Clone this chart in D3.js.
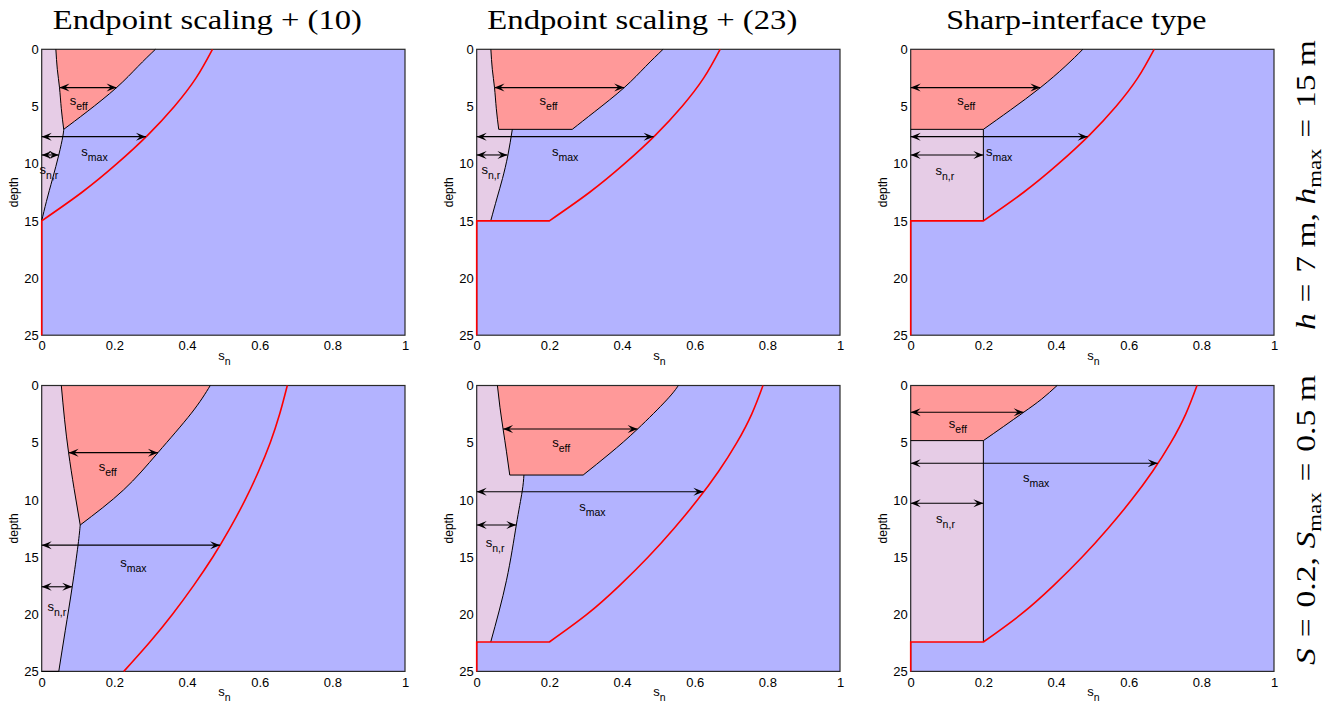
<!DOCTYPE html>
<html>
<head>
<meta charset="utf-8">
<script src="https://cdn.jsdelivr.net/npm/d3@7"></script>
<style>
  body { margin: 0; background: #fff; }
  svg { display: block; }
  text { font-family: "Liberation Sans", Arial, Helvetica, sans-serif; fill: #000; }
  .serif { font-family: "Liberation Serif", "Times New Roman", serif; }
</style>
</head>
<body>
<svg id="chart" width="1332" height="706"></svg>
<script>
// axis ticks and headings
const depthTicks = [0, 5, 10, 15, 20, 25];
const snTicks = [0, 0.2, 0.4, 0.6, 0.8, 1];
const columnTitles = ["Endpoint scaling + (10)", "Endpoint scaling + (23)", "Sharp-interface type"];
const rowLabels = [
  [["h", "i"], ["=", ""], ["7", ""], ["m,", ""], ["h", "i"], ["max", "sub"], ["=", ""], ["15", ""], ["m", ""]],
  [["S", "i"], ["=", ""], ["0.2,", ""], ["S", "i"], ["max", "sub"], ["=", ""], ["0.5", ""], ["m", ""]]
];

// curves as [s_n, depth]
const p1Upper = [[0.039, 0], [0.043, 1.75], [0.049, 3.35], [0.054, 5.2], [0.0606, 7]];
const p1Lower = [[0.0606, 7], [0.058, 7.64], [0.047, 9.24], [0.030, 11.3], [0.013, 13.3], [0, 15]];
const p1Eff = [[0.313, 0], [0.265, 1.5], [0.206, 3.35], [0.125, 5.45], [0.0606, 7]];
const p1Max = [[0.47, 0], [0.425, 2.5], [0.365, 5], [0.292, 7.5], [0.207, 10], [0.111, 12.5], [0, 15]];

const p2Upper = [[0.039, 0], [0.043, 1.75], [0.049, 3.35], [0.054, 5.2], [0.0606, 7]];
const p2Lower = [[0.098, 7], [0.086, 9.24], [0.071, 11.3], [0.056, 13.0], [0.0386, 15]];
const p2Eff = [[0.513, 0], [0.465, 1.5], [0.406, 3.35], [0.325, 5.45], [0.263, 7]];
const p2Max = [[0.67, 0], [0.625, 2.5], [0.565, 5], [0.492, 7.5], [0.407, 10], [0.311, 12.5], [0.2, 15]];

const p3Eff = [[0.474, 0], [0.425, 1.5], [0.357, 3.35], [0.275, 5.3], [0.2, 7]];
const p3Max = [[0.67, 0], [0.625, 2.5], [0.565, 5], [0.492, 7.5], [0.407, 10], [0.311, 12.5], [0.2, 15]];

const p4Upper = [[0.054, 0], [0.063, 3], [0.074, 5.87], [0.089, 9], [0.106, 12.2]];
const p4Lower = [[0.106, 12.2], [0.1, 13.96], [0.084, 17.6], [0.065, 21.4], [0.047, 25]];
const p4Eff = [[0.464, 0], [0.412, 2.42], [0.32, 5.87], [0.225, 9.14], [0.106, 12.2]];
const p4Max = [[0.676, 0], [0.655, 2.5], [0.629, 5], [0.597, 7.5], [0.56, 10], [0.518, 12.5],
               [0.471, 15], [0.418, 17.5], [0.36, 20], [0.296, 22.5], [0.226, 25]];

const p5Upper = [[0.057, 0], [0.064, 1.9], [0.0726, 3.8], [0.082, 5.8], [0.091, 7.83]];
const p5Lower = [[0.13, 7.83], [0.125, 9.29], [0.109, 12.2], [0.082, 17.03], [0.0386, 22.43]];
const p5Eff = [[0.555, 0], [0.523, 1.26], [0.443, 3.8], [0.367, 5.93], [0.293, 7.83]];
const p5Max = [[0.788, 0], [0.757, 2.5], [0.716, 5], [0.666, 7.5], [0.608, 10], [0.543, 12.5],
               [0.472, 15], [0.393, 17.5], [0.304, 20], [0.2, 22.43]];

const p6Eff = [[0.403, 0], [0.36, 1.2], [0.311, 2.34], [0.255, 3.6], [0.2, 4.82]];
const p6Max = [[0.788, 0], [0.757, 2.5], [0.716, 5], [0.666, 7.5], [0.608, 10], [0.543, 12.5],
               [0.472, 15], [0.393, 17.5], [0.304, 20], [0.2, 22.43]];

// arrows: [depth, from s_n, to s_n] for s_eff, s_max, s_n,r
const arrowsEff = [[3.35, 0.049, 0.206], [3.35, 0.049, 0.406], [3.35, 0, 0.357],
                   [5.87, 0.074, 0.32], [3.8, 0.0726, 0.443], [2.34, 0, 0.311]];
const arrowsMax = [[7.64, 0, 0.287], [7.64, 0, 0.487], [7.64, 0, 0.487],
                   [13.96, 0, 0.491], [9.29, 0, 0.624], [6.8, 0, 0.68]];
const arrowsNr = [[9.24, 0, 0.047], [9.24, 0, 0.0846], [9.24, 0, 0.2],
                  [17.6, 0, 0.084], [12.2, 0, 0.109], [10.3, 0, 0.2]];
// label anchors [s_n, depth]
const labelEff = [[0.077, 4.9], [0.173, 4.9], [0.128, 4.9], [0.157, 7.45], [0.208, 5.35], [0.105, 3.73]];
const labelMax = [[0.109, 9.3], [0.207, 9.3], [0.207, 9.3], [0.216, 15.9], [0.282, 10.98], [0.309, 8.4]];
const labelNr = [[-0.006, 10.9], [0.013, 10.9], [0.068, 11.0], [0.016, 19.7], [0.025, 14.1], [0.07, 12.06]];

const panels = [
  { kind: "smooth", upper: p1Upper, lower: p1Lower, eff: p1Eff, max: p1Max },
  { kind: "step", upper: p2Upper, lower: p2Lower, eff: p2Eff, max: p2Max },
  { kind: "sharp", eff: p3Eff, max: p3Max },
  { kind: "smooth", upper: p4Upper, lower: p4Lower, eff: p4Eff, max: p4Max },
  { kind: "step", upper: p5Upper, lower: p5Lower, eff: p5Eff, max: p5Max },
  { kind: "sharp", eff: p6Eff, max: p6Max }
];

const colLeft = [41.7, 476.7, 910.7];
const rowTop = [49.3, 385.5];
const pw = 363.3, ph = 285.9;
const C = { blue: "#b3b3ff", purple: "#e6cce6", red: "#ff9999", line: "#ff0000" };

const svg = d3.select("#chart");
const last = (a) => a[a.length - 1];
const rev = (a) => a.slice().reverse();
const S = (pts) => ({ pts, smooth: true });
const L = (pts) => ({ pts, smooth: false });

panels.forEach((p, i) => {
  const r = Math.floor(i / 3), c = i % 3;
  const x = d3.scaleLinear().domain([0, 1]).range([0, pw]);
  const y = d3.scaleLinear().domain([0, 25]).range([0, ph]);
  const smoothGen = d3.line().x((q) => x(q[0])).y((q) => y(q[1])).curve(d3.curveNatural);
  const linGen = d3.line().x((q) => x(q[0])).y((q) => y(q[1]));
  const path = (segs, close) =>
    segs.map((s, k) => {
      const str = (s.smooth ? smoothGen : linGen)(s.pts);
      return k ? str.replace(/^M/, "L") : str;
    }).join("") + (close ? "Z" : "");

  const g = svg.append("g").attr("transform", `translate(${colLeft[c]},${rowTop[r]})`);

  let purple, red, black = [], redLine;
  if (p.kind === "smooth") {
    const lEnd = last(p.lower);
    purple = [L([[0, 0], p.upper[0]]), S(p.upper), S(p.lower), L([lEnd, [0, lEnd[1]], [0, 0]])];
    red = [S(p.upper), S(rev(p.eff)), L([p.eff[0], p.upper[0]])];
    black = [[S(p.upper)], [S(p.lower)], [S(p.eff)]];
    if (lEnd[1] >= 25) black.push([L([lEnd, [0, 25]])]);
    redLine = [S(p.max)];
    if (last(p.max)[0] === 0) redLine.push(L([last(p.max), [0, 25]]));
  } else if (p.kind === "step") {
    const floor = last(p.max)[1];
    const kinkU = last(p.upper), kinkE = last(p.eff);
    purple = [L([[0, 0], p.upper[0]]), S(p.upper), L([kinkU, p.lower[0]]), S(p.lower),
              L([last(p.lower), [0, floor], [0, 0]])];
    red = [S(p.upper), L([kinkU, kinkE]), S(rev(p.eff)), L([p.eff[0], p.upper[0]])];
    black = [[S(p.upper)], [L([kinkU, kinkE])], [S(p.lower)], [S(p.eff)]];
    redLine = [L([[0, 25], [0, floor], last(p.max)]), S(rev(p.max))];
  } else {
    const floor = last(p.max)[1];
    const shelf = last(p.max)[0];
    const kink = last(p.eff)[1];
    purple = [L([[0, kink], [shelf, kink], [shelf, floor], [0, floor]])];
    red = [L([[0, kink], [0, 0], p.eff[0]]), S(p.eff)];
    black = [[S(p.eff)], [L([[0, kink], [shelf, kink], [shelf, floor]])]];
    redLine = [L([[0, 25], [0, floor], [shelf, floor]]), S(rev(p.max))];
  }

  g.append("rect").attr("width", pw).attr("height", ph).attr("fill", C.blue);
  g.append("path").attr("d", path(purple, true)).attr("fill", C.purple);
  g.append("path").attr("d", path(red, true)).attr("fill", C.red);
  g.append("rect").attr("width", pw).attr("height", ph)
    .attr("fill", "none").attr("stroke", "#2a2a2a").attr("stroke-width", 1.2);
  black.forEach((b) => g.append("path").attr("d", path(b)).attr("fill", "none")
    .attr("stroke", "#000").attr("stroke-width", 1));
  g.append("path").attr("d", path(redLine)).attr("fill", "none")
    .attr("stroke", C.line).attr("stroke-width", 1.6);

  // double arrows
  const head = (tx, ty, dir) => {
    const Lh = 10, h = 4, n = 6;
    return `M${tx},${ty}L${tx + dir * Lh},${ty - h}L${tx + dir * n},${ty}L${tx + dir * Lh},${ty + h}Z`;
  };
  [arrowsEff[i], arrowsMax[i], arrowsNr[i]].forEach(([d, s0, s1]) => {
    const yy = y(d), x0 = x(s0), x1 = x(s1);
    g.append("line").attr("x1", x0).attr("x2", x1).attr("y1", yy).attr("y2", yy)
      .attr("stroke", "#000").attr("stroke-width", 1.1);
    g.append("path").attr("d", head(x0, yy, 1) + head(x1, yy, -1)).attr("fill", "#000");
  });

  // s labels
  [[labelEff[i], "eff"], [labelMax[i], "max"], [labelNr[i], "n,r"]].forEach(([pos, sub]) => {
    const t = g.append("text").attr("x", x(pos[0])).attr("y", y(pos[1])).attr("font-size", 13);
    t.append("tspan").text("s");
    t.append("tspan").attr("dy", 5).attr("font-size", 10.5).text(sub);
  });

  // axes
  const yAxis = g.append("g").call(d3.axisLeft(y).tickValues(depthTicks).tickSize(0).tickPadding(3));
  const xAxis = g.append("g").attr("transform", `translate(0,${ph})`)
    .call(d3.axisBottom(x).tickValues(snTicks).tickFormat((d) => String(d)).tickSize(0).tickPadding(6));
  [yAxis, xAxis].forEach((a) => {
    a.select(".domain").remove();
    a.selectAll(".tick text").attr("font-size", 13).attr("fill", "#000")
      .style("font-family", '"Liberation Sans", Arial, sans-serif');
  });

  g.append("text").attr("transform", `translate(-24,${ph / 2}) rotate(-90)`)
    .attr("text-anchor", "middle").attr("font-size", 12).text("depth");

  const xl = g.append("text").attr("x", pw / 2 - 5).attr("y", ph + 25).attr("font-size", 13);
  xl.append("tspan").text("s");
  xl.append("tspan").attr("dy", 5).attr("font-size", 10.5).text("n");

  if (r === 0) {
    const tl = [309, 310, 260][c];
    svg.append("text").attr("class", "serif")
      .attr("x", colLeft[c] + pw / 2 - 16).attr("y", 29.3)
      .attr("text-anchor", "middle").attr("font-size", 28)
      .attr("textLength", tl).attr("lengthAdjust", "spacingAndGlyphs")
      .text(columnTitles[c]);
  }
});

// row labels on the right
[185, 520].forEach((cy, r) => {
  const t = svg.append("text").attr("class", "serif")
    .attr("transform", `translate(1315,${cy}) rotate(-90)`)
    .attr("text-anchor", "middle").attr("font-size", 28)
    .attr("textLength", 290).attr("lengthAdjust", "spacingAndGlyphs");
  let shifted = false;
  rowLabels[r].forEach(([txt, style], k) => {
    const ts = t.append("tspan").text(txt);
    if (style === "i") ts.attr("font-style", "italic");
    if (style === "sub") { ts.attr("font-size", 19).attr("dy", 6); shifted = true; }
    else {
      if (k > 0) ts.attr("dx", txt === "=" || rowLabels[r][k - 1][0] === "=" ? 9 : 7);
      if (shifted) { ts.attr("dy", -6); shifted = false; }
    }
  });
});
</script>
</body>
</html>
